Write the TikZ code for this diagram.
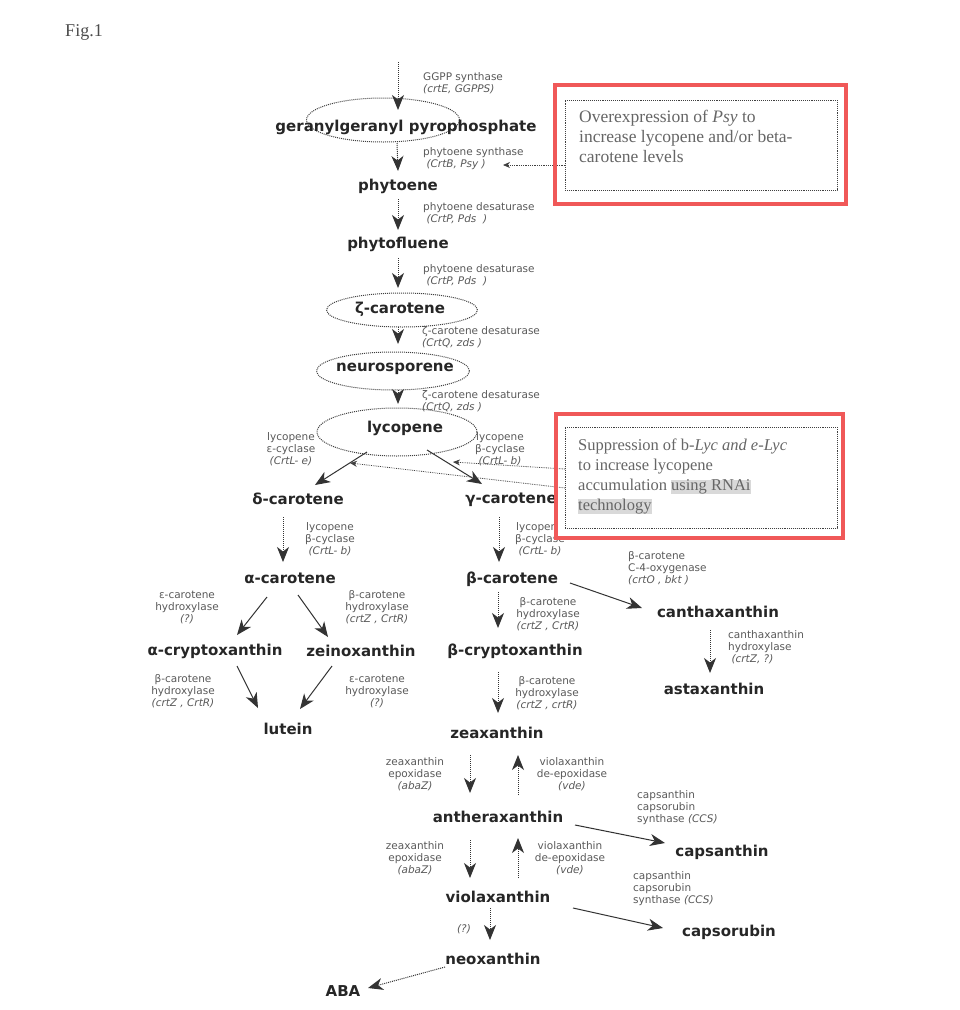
\documentclass[tikz,border=0pt]{standalone}
\usepackage{fontspec}
\setmainfont{Liberation Serif}
\newfontfamily\dejavu[ItalicFont={DejaVu Sans Oblique},BoldFont={DejaVu Sans Bold},BoldItalicFont={DejaVu Sans Bold Oblique}]{DejaVu Sans}
\usetikzlibrary{arrows.meta,shapes.geometric,calc}
\definecolor{redbox}{RGB}{240,88,88}
\tikzset{
 cmp/.style={font=\dejavu\bfseries\fontsize{15}{15}\selectfont, text=black!85, inner sep=1pt},
 lab/.style={font=\dejavu\fontsize{10.5}{12}\selectfont, text=black!65, align=center, inner sep=0pt},
 labl/.style={lab, align=left, anchor=west},
 oval/.style={ellipse, draw=black!75, densely dotted, line width=1pt, inner sep=0pt},
 arr/.style={-{Stealth[length=15pt,width=12pt,inset=4.5pt]}, draw=black!80, line width=1pt},
 darr/.style={arr, densely dotted},
 inh/.style={-{Stealth[length=7pt,width=6pt]}, draw=black!75, line width=0.8pt, densely dotted},
 notebox/.style={draw=black!75, densely dotted, line width=0.9pt, inner sep=0pt},
 note/.style={text=black!60, align=left, anchor=north west, inner sep=0pt},
}
\begin{document}
\begin{tikzpicture}[x=1pt,y=-1pt]
\useasboundingbox (0,0) rectangle (960,1010);
\node[font=\fontsize{18}{18}\selectfont, text=black!70] (fig) at (84,32) {Fig.1};

% ---- upper chain ----
\coordinate (gtop) at (398,62);
\node[oval, minimum width=153pt, minimum height=44pt] (ggE) at (383,120) {};
\node[cmp] (ggpp) at (406,127) {geranylgeranyl pyrophosphate};
\node[cmp] (phytoene) at (398,186) {phytoene};
\node[cmp] (phytofluene) at (398,244) {phytofluene};
\node[oval, minimum width=151pt, minimum height=34pt] (zetaE) at (402,310) {};
\node[cmp] (zeta) at (400,309) {ζ-carotene};
\node[oval, minimum width=153pt, minimum height=38pt] (neuroE) at (393,371) {};
\node[cmp] (neuro) at (395,369) {neurosporene};
\node[oval, minimum width=160pt, minimum height=48pt] (lycE) at (397,432) {};
\node[cmp] (lyc) at (405,428) {lycopene};

\node[labl] (gglab) at (423,83.5) {GGPP synthase\\\textit{(crtE, GGPPS)}};
\node[labl] (psylab) at (423,158.5) {phytoene synthase\\\textit{\ (CrtB, Psy )}};
\node[labl] (pds1) at (423,213.5) {phytoene desaturase\\\textit{\ (CrtP, Pds\ \ )}};
\node[labl] (pds2) at (423,275.5) {phytoene desaturase\\\textit{\ (CrtP, Pds\ \ )}};
\node[labl] (zds1) at (422,337.5) {ζ-carotene desaturase\\\textit{(CrtQ, zds )}};
\node[labl] (zds2) at (422,401) {ζ-carotene desaturase\\\textit{(CrtQ, zds )}};

\draw[darr] (gtop) -- ($(ggE)+(15,-10)$);
\draw[darr] ($(ggE)+(14,23)$) -- ($(phytoene)+(0,-15)$);
\draw[darr] ($(phytoene)+(0,13)$) -- ($(phytofluene)+(0,-14)$);
\draw[darr] ($(phytofluene)+(0,14)$) -- ($(zetaE)+(-4,-22)$);
\draw[darr] ($(zetaE)+(-4,17)$) -- ($(neuroE)+(5,-27)$);
\draw[darr] ($(neuroE)+(5,19)$) -- ($(lycE)+(1,-28)$);

% ---- cyclisation ----
\node[cmp] (delta) at (298,499) {δ-carotene};
\node[cmp] (gamma) at (511,500) {γ-carotene};
\node[lab] (lcE) at (291,449) {lycopene\\ε-cyclase\\\textit{(CrtL- e)}};
\node[lab] (lcB) at (500,449) {lycopene\\β-cyclase\\\textit{(CrtL- b)}};
\draw[arr] ($(lycE)+(-30,20)$) -- ($(delta)+(17,-14)$);
\draw[arr] ($(lycE)+(30,18)$) -- ($(gamma)+(-29,-16)$);

\node[cmp] (alpha) at (290,578) {α-carotene};
\node[cmp] (beta) at (512,579) {β-carotene};
\node[lab] (cyc1) at (330,539) {lycopene\\β-cyclase\\\textit{(CrtL- b)}};
\node[lab] (cyc2) at (540,539) {lycopene\\β-cyclase\\\textit{(CrtL- b)}};
\draw[darr] ($(delta)+(-15,18)$) -- ($(alpha)+(-7,-16)$);
\draw[darr] ($(gamma)+(-12,17)$) -- ($(beta)+(-13,-17)$);

% ---- alpha branch ----
\node[cmp] (acrypt) at (215,651) {α-cryptoxanthin};
\node[cmp] (zein) at (361,651) {zeinoxanthin};
\node[cmp] (lutein) at (288,729) {lutein};
\node[lab] (ehyd1) at (187,607) {ε-carotene\\hydroxylase\\\textit{(?)}};
\node[lab] (bhyd1) at (377,607) {β-carotene\\hydroxylase\\\textit{(crtZ , CrtR)}};
\node[lab] (bhyd2) at (183,691) {β-carotene\\hydroxylase\\\textit{(crtZ , CrtR)}};
\node[lab] (ehyd2) at (377,691) {ε-carotene\\hydroxylase\\\textit{(?)}};
\draw[arr] ($(alpha)+(-23,19)$) -- ($(acrypt)+(22,-16)$);
\draw[arr] ($(alpha)+(8,17)$) -- ($(zein)+(-33,-14)$);
\draw[arr] ($(acrypt)+(22,15)$) -- ($(lutein)+(-30,-21)$);
\draw[arr] ($(zein)+(-29,15)$) -- ($(lutein)+(12,-20)$);

% ---- beta branch ----
\node[cmp] (bcrypt) at (515,651) {β-cryptoxanthin};
\node[cmp] (cantha) at (718,612) {canthaxanthin};
\node[cmp] (asta) at (714,689) {astaxanthin};
\node[cmp] (zea) at (497,733) {zeaxanthin};
\node[lab] (bhyd3) at (548,614) {β-carotene\\hydroxylase\\\textit{(crtZ , CrtR)}};
\node[labl] (oxy) at (628,568) {β-carotene\\C-4-oxygenase\\\textit{(crtO , bkt )}};
\node[labl] (cthyd) at (728,647) {canthaxanthin\\hydroxylase\\\textit{\ (crtZ, ?)}};
\node[lab] (bhyd4) at (547,693) {β-carotene\\hydroxylase\\\textit{(crtZ , crtR)}};
\draw[darr] ($(beta)+(-14,13)$) -- ($(bcrypt)+(-17,-23)$);
\draw[arr] ($(beta)+(58,4)$) -- ($(cantha)+(-76,-4)$);
\draw[darr] ($(cantha)+(-8,18)$) -- ($(asta)+(-4,-16)$);
\draw[darr] ($(bcrypt)+(-17,21)$) -- ($(zea)+(1,-20)$);

% ---- xanthophyll cycle ----
\node[cmp] (anthera) at (498,817) {antheraxanthin};
\node[cmp] (viola) at (498,897) {violaxanthin};
\node[cmp] (capsan) at (722,852) {capsanthin};
\node[cmp] (capsor) at (729,932) {capsorubin};
\node[cmp] (neox) at (493,959) {neoxanthin};
\node[cmp] (ABA) at (343,991) {ABA};
\node[lab] (zep1) at (415,774) {zeaxanthin\\epoxidase\\\textit{(abaZ)}};
\node[lab] (vde1) at (572,774) {violaxanthin\\de-epoxidase\\\textit{(vde)}};
\node[lab] (zep2) at (415,858) {zeaxanthin\\epoxidase\\\textit{(abaZ)}};
\node[lab] (vde2) at (570,858) {violaxanthin\\de-epoxidase\\\textit{(vde)}};
\node[labl] (ccs1) at (637,808) {capsanthin\\capsorubin\\synthase \textit{(CCS)}};
\node[labl] (ccs2) at (633,889) {capsanthin\\capsorubin\\synthase \textit{(CCS)}};
\node[lab] (qlab) at (464,929) {\textit{(?)}};
\draw[darr] ($(zea)+(-27,22)$) -- ($(anthera)+(-28,-24)$);
\draw[darr] ($(anthera)+(20,-22)$) -- ($(zea)+(21,22)$);
\draw[darr] ($(anthera)+(-28,23)$) -- ($(viola)+(-28,-19)$);
\draw[darr] ($(viola)+(20,-19)$) -- ($(anthera)+(20,21)$);
\draw[arr] ($(anthera)+(77,8)$) -- ($(capsan)+(-57,-9)$);
\draw[arr] ($(viola)+(75,11)$) -- ($(capsor)+(-66,-4)$);
\draw[darr] ($(viola)+(-8,11)$) -- ($(neox)+(-3,-19)$);
\draw[darr] ($(neox)+(-48,8)$) -- ($(ABA)+(25,-3)$);

% ---- note boxes ----
\fill[white] (553,83) rectangle (848,206);
\fill[white] (554,412) rectangle (845,540);
\node[notebox, minimum width=272pt, minimum height=90pt] (box1) at (701,145) {};
\node[notebox, minimum width=272pt, minimum height=101pt] (box2) at (701,477.5) {};
\node[note, font=\fontsize{17.5}{20}\selectfont] (t1) at (579,110) {Overexpression of \textit{Psy} to\\increase lycopene and/or beta-\\carotene levels};
\node[note, font=\fontsize{16.5}{20}\selectfont] (t2) at (578,439) {Suppression of b-\textit{Lyc and e-Lyc}\\to increase lycopene\\accumulation {\fboxsep=0pt\colorbox{black!15}{\vphantom{Ag}using RNAi}}\\{\fboxsep=0pt\colorbox{black!15}{\vphantom{Ag}technology}}};

\coordinate (psyT) at (503,165);
\coordinate (inhG) at (453,462);
\coordinate (inhD) at (350,463);
\draw[inh] ($(box1)+(-136,20)$) -- (psyT);
\draw[inh] ($(box2)+(-136,-8.5)$) -- (inhG);
\draw[inh] ($(box2)+(-136,10.5)$) -- (inhD);

\draw[redbox, line width=4pt] (555,85) rectangle (846,204);
\draw[redbox, line width=4pt] (556,414) rectangle (843,538);
\end{tikzpicture}
\end{document}
